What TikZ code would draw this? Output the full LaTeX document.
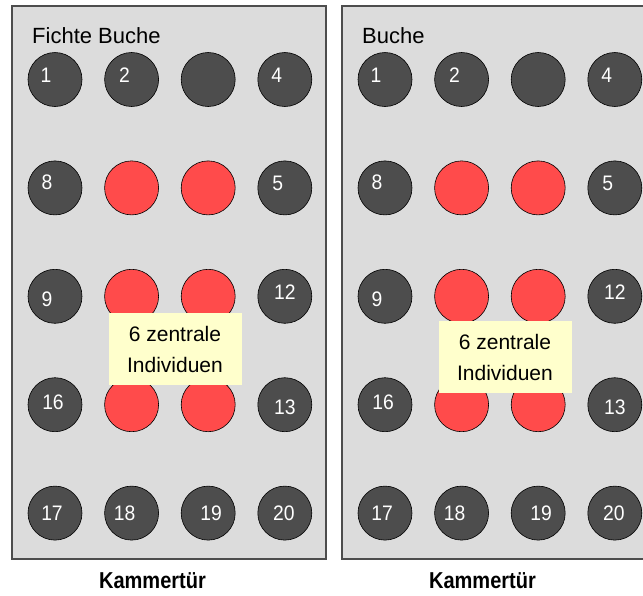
\documentclass[tikz,border=0pt]{standalone}
\usepackage{fontspec}
\setmainfont{Liberation Sans}
\newfontfamily\schmal{Liberation Sans}[FakeStretch=0.92]
\newfontfamily\tuerfont{Liberation Sans}[FakeStretch=0.87]
\usetikzlibrary{positioning}
\definecolor{kgrau}  {HTML}{DCDCDC}
\definecolor{krand}  {HTML}{4D4D4D}
\definecolor{kdunkel}{HTML}{4D4D4D}
\definecolor{krot}   {HTML}{FF4B4B}
\definecolor{kgelb}  {HTML}{FFFFCC}
\tikzset{
  kasten/.style={draw=krand, fill=kgrau, line width=1.2pt},
  tier/.style={circle, draw=black, line width=0.6pt, minimum size=54pt, inner sep=0pt},
  dunkel/.style={tier, fill=kdunkel},
  rot/.style={tier, fill=krot},
  nr/.style={text=white, inner sep=0pt, font=\schmal\fontsize{21}{21}\selectfont},
  hinweis/.style={fill=kgelb, align=center, minimum width=133pt, minimum height=72pt,
    inner sep=0pt, font=\fontsize{21}{31}\selectfont},
  titel/.style={anchor=west, inner sep=0pt, font=\fontsize{22}{22}\selectfont},
  tuer/.style={inner sep=0pt, font=\tuerfont\bfseries\fontsize{23}{23}\selectfont}
}
% #1 Praefix, #2 linker Rand, #3 Titel, #4 Hoehe des Hinweises
\newcommand{\kammer}[4]{%
  \draw[kasten] (#2,6) rectangle (#2+314,559);
  \node[titel] (#1-titel) at (#2+20,36) {#3};
  \foreach \s/\i/\j/\n/\dx/\dy in {
      dunkel/1/1/1/-9/-4, dunkel/1/2/2/-7/-4, dunkel/1/3//0/0, dunkel/1/4/4/-8/-4,
      dunkel/2/1/8/-8/-6, rot/2/2//0/0, rot/2/3//0/0, dunkel/2/4/5/-7/-5,
      dunkel/3/1/9/-8/3, rot/3/2//0/0, rot/3/3//0/0, dunkel/3/4/12/0/-4,
      dunkel/4/1/16/-2/-2, rot/4/2//0/0, rot/4/3//0/0, dunkel/4/4/13/0/3,
      dunkel/5/1/17/-3/0, dunkel/5/2/18/-7/0, dunkel/5/3/19/3/0, dunkel/5/4/20/-1/0}
    \node[\s, label={[nr, xshift=\dx pt, yshift=-\dy pt]center:\n}]
      (#1-\i-\j) at (#2+43+76.6*\j-76.6, 79.5+108.4*\i-108.4) {};
  \node[hinweis] (#1-hinweis) at (#2+163,#4) {6 zentrale\\Individuen};
  \node[tuer] (#1-tuer) at (#2+140.5,581) {Kammertür};
}

\begin{document}
\begin{tikzpicture}[x=1pt, y=-1pt]
\clip (0,0) rectangle (643,595);
\fill[white] (0,0) rectangle (643,595);
\kammer{fb}{12}{Fichte Buche}{349}
\kammer{b}{342}{Buche}{357}
\end{tikzpicture}
\end{document}
